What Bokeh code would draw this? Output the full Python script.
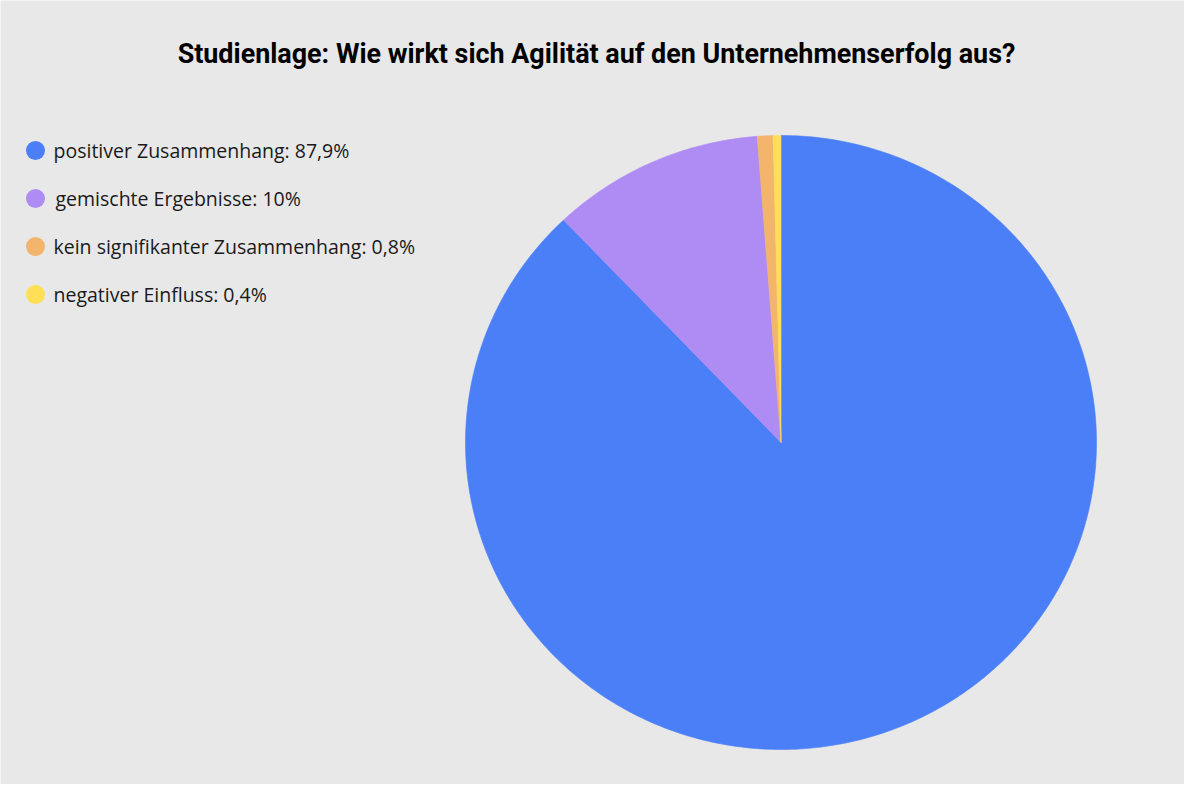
import numpy as np

from bokeh.plotting import figure
from bokeh.models import ColumnDataSource
from bokeh.core.properties import value
from bokeh.embed import file_html
from bokeh.resources import INLINE

# slice shares as drawn in the pie (percent of the circle), clockwise from 12 o'clock
categories = ["positiver Zusammenhang", "gemischte Ergebnisse",
              "kein signifikanter Zusammenhang", "negativer Einfluss"]
shares = [87.9, 10.9, 0.8, 0.4]
legend_labels = ["positiver Zusammenhang: 87,9%", "gemischte Ergebnisse: 10%",
                 "kein signifikanter Zusammenhang: 0,8%", "negativer Einfluss: 0,4%"]
colors = ["#4a7ff7", "#ae8cf4", "#f2b56b", "#fedf55"]

title = "Studienlage: Wie wirkt sich Agilität auf den Unternehmenserfolg aus?"

W, H = 1184, 784
BG = "#e8e8e8"

p = figure(width=W, height=H, x_range=(0, W), y_range=(0, H),
           output_backend="svg", toolbar_location=None,
           background_fill_color=BG, border_fill_color=BG,
           min_border=0, outline_line_color=None)
p.axis.visible = False
p.grid.visible = False

# pie, slightly wider than tall like the original
cx, cy = 780.5, H - 442.0
rx, ry = 315.5, 307.0

frac = np.array(shares) / np.sum(shares)
ends = np.cumsum(frac)
starts = ends - frac

xs, ys = [], []
for s, e in zip(starts, ends):
    t = np.linspace(s, e, max(int(400 * (e - s)), 8))
    theta = np.pi / 2 - 2 * np.pi * t
    xs.append([cx] + list(cx + rx * np.cos(theta)) + [cx])
    ys.append([cy] + list(cy + ry * np.sin(theta)) + [cy])

pie = ColumnDataSource(dict(xs=xs, ys=ys, color=colors, cat=categories))
p.patches("xs", "ys", source=pie, fill_color="color", line_color="color", line_width=0.6)

# legend on the left
row_y = [H - 150 - 48 * i for i in range(len(categories))]
leg = ColumnDataSource(dict(x=[35] * len(categories), tx=[53, 55, 53, 53],
                            y=row_y, color=colors, label=legend_labels))
p.scatter("x", "y", source=leg, size=19, marker="circle",
          fill_color="color", line_color=None)
p.text("tx", "y", text="label", source=leg, text_font=value("Open Sans"),
       text_font_size="19.5px", text_baseline="middle", text_align="left",
       text_color="#1a1a1a")

# title
p.text(x=[596], y=[H - 53], text=[title], text_font=value("Roboto"),
       text_font_style="bold", text_font_size="26.9px", text_align="center",
       text_baseline="middle", text_color="#000000")

open("out.html", "w").write(file_html(p, INLINE))
